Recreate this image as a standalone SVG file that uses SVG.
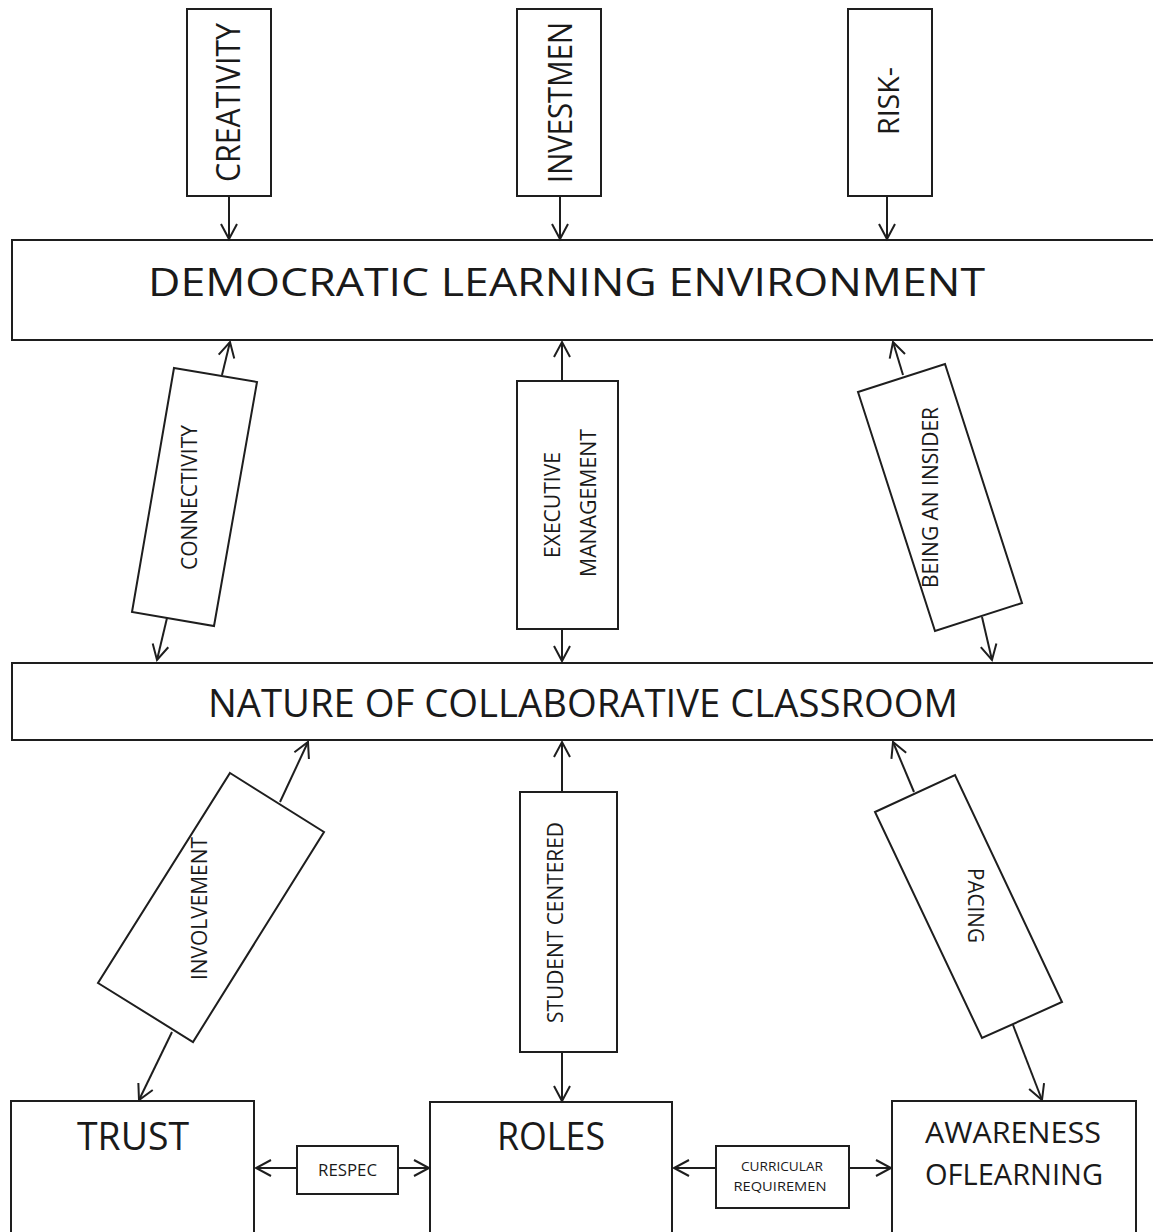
<svg xmlns="http://www.w3.org/2000/svg" width="1153" height="1232" viewBox="0 0 1153 1232">
<style>
.box{fill:#fff;stroke:#1e1e1e;stroke-width:2}
.ln{fill:none;stroke:#1e1e1e;stroke-width:2;marker-end:url(#ah)}
.t{font-family:"Open Sans","DejaVu Sans",sans-serif;fill:#1a1a1a}
</style>
<defs>
<marker id="ah" markerUnits="userSpaceOnUse" markerWidth="20" markerHeight="20" viewBox="0 0 20 20" refX="17" refY="10" orient="auto">
<path d="M2,2 L17,10 L2,18" fill="none" stroke="#1e1e1e" stroke-width="2"/>
</marker>
</defs>
<rect width="1153" height="1232" fill="#fff"/>

<g id="creativity">
<rect class="box" x="187" y="9" width="84" height="187"/>
<text class="t" x="240" y="102.5" font-size="32" text-anchor="middle" textLength="159" lengthAdjust="spacingAndGlyphs" transform="rotate(-90 240 102.5)">CREATIVITY</text>
</g>
<g id="investment">
<rect class="box" x="517" y="9" width="84" height="187"/>
<text class="t" x="572" y="102.5" font-size="33" text-anchor="middle" textLength="161" lengthAdjust="spacingAndGlyphs" transform="rotate(-90 572 102.5)">INVESTMEN</text>
</g>
<g id="risk">
<rect class="box" x="848" y="9" width="84" height="187"/>
<text class="t" x="899" y="101" font-size="30" text-anchor="middle" textLength="68" lengthAdjust="spacingAndGlyphs" transform="rotate(-90 899 101)">RISK-</text>
</g>

<g id="dle">
<rect class="box" x="12" y="240" width="1142" height="100"/>
<text class="t" x="148" y="296" font-size="39" textLength="837" lengthAdjust="spacingAndGlyphs">DEMOCRATIC LEARNING ENVIRONMENT</text>
</g>

<g id="connectivity">
<polygon class="box" points="174,368 257,382 214,626 132,612"/>
<text class="t" x="197" y="497.5" font-size="21" text-anchor="middle" textLength="145" lengthAdjust="spacingAndGlyphs" transform="rotate(-90 197 497.5)">CONNECTIVITY</text>
</g>
<g id="executive">
<rect class="box" x="517" y="381" width="101" height="248"/>
<text class="t" x="560" y="505" font-size="21" text-anchor="middle" textLength="106" lengthAdjust="spacingAndGlyphs" transform="rotate(-90 560 505)">EXECUTIVE</text>
<text class="t" x="596" y="503" font-size="21" text-anchor="middle" textLength="148" lengthAdjust="spacingAndGlyphs" transform="rotate(-90 596 503)">MANAGEMENT</text>
</g>
<g id="insider">
<polygon class="box" points="858,392 945,364 1022,603 935,631"/>
<text class="t" x="938" y="497.5" font-size="21" text-anchor="middle" textLength="181" lengthAdjust="spacingAndGlyphs" transform="rotate(-90 938 497.5)">BEING AN INSIDER</text>
</g>

<g id="ncc">
<rect class="box" x="12" y="663" width="1142" height="77"/>
<text class="t" x="208" y="717" font-size="39" textLength="750" lengthAdjust="spacingAndGlyphs">NATURE OF COLLABORATIVE CLASSROOM</text>
</g>

<g id="involvement">
<polygon class="box" points="230,773 324,832 193,1042 98,983"/>
<text class="t" x="207" y="908.5" font-size="21" text-anchor="middle" textLength="143" lengthAdjust="spacingAndGlyphs" transform="rotate(-90 207 908.5)">INVOLVEMENT</text>
</g>
<g id="student">
<rect class="box" x="520" y="792" width="97" height="260"/>
<text class="t" x="563" y="922.5" font-size="21" text-anchor="middle" textLength="201" lengthAdjust="spacingAndGlyphs" transform="rotate(-90 563 922.5)">STUDENT CENTERED</text>
</g>
<g id="pacing">
<polygon class="box" points="875,812 955,775 1062,1002 982,1038"/>
<text class="t" x="968" y="905.5" font-size="21" text-anchor="middle" textLength="75" lengthAdjust="spacingAndGlyphs" transform="rotate(90 968 905.5)">PACING</text>
</g>

<g id="trust">
<rect class="box" x="11" y="1101" width="243" height="140"/>
<text class="t" x="133" y="1150" font-size="38" text-anchor="middle" textLength="112" lengthAdjust="spacingAndGlyphs">TRUST</text>
</g>
<g id="respect">
<rect class="box" x="297" y="1146" width="101" height="48"/>
<text class="t" x="347.5" y="1176" font-size="16" text-anchor="middle" textLength="59" lengthAdjust="spacingAndGlyphs">RESPEC</text>
</g>
<g id="roles">
<rect class="box" x="430" y="1102" width="242" height="140"/>
<text class="t" x="551" y="1150" font-size="38" text-anchor="middle" textLength="108" lengthAdjust="spacingAndGlyphs">ROLES</text>
</g>
<g id="curricular">
<rect class="box" x="716" y="1146" width="133" height="62"/>
<text class="t" x="782" y="1171" font-size="13.5" text-anchor="middle" textLength="82" lengthAdjust="spacingAndGlyphs">CURRICULAR</text>
<text class="t" x="780" y="1191" font-size="13.5" text-anchor="middle" textLength="93" lengthAdjust="spacingAndGlyphs">REQUIREMEN</text>
</g>
<g id="awareness">
<rect class="box" x="892" y="1101" width="244" height="140"/>
<text class="t" x="1013" y="1143" font-size="30" text-anchor="middle" textLength="176" lengthAdjust="spacingAndGlyphs">AWARENESS</text>
<text class="t" x="1014" y="1185" font-size="30" text-anchor="middle" textLength="178" lengthAdjust="spacingAndGlyphs">OFLEARNING</text>
</g>

<g id="connectors">
<line class="ln" x1="229" y1="196" x2="229" y2="239"/>
<line class="ln" x1="560" y1="196" x2="560" y2="239"/>
<line class="ln" x1="887" y1="196" x2="887" y2="239"/>
<line class="ln" x1="222" y1="375" x2="230" y2="342"/>
<line class="ln" x1="167" y1="618" x2="157" y2="660"/>
<line class="ln" x1="562" y1="381" x2="562" y2="342"/>
<line class="ln" x1="562" y1="629" x2="562" y2="661"/>
<line class="ln" x1="903" y1="375" x2="893" y2="342"/>
<line class="ln" x1="982" y1="617" x2="992" y2="660"/>
<line class="ln" x1="280" y1="802" x2="308" y2="742"/>
<line class="ln" x1="172" y1="1032" x2="139" y2="1100"/>
<line class="ln" x1="562" y1="792" x2="562" y2="742"/>
<line class="ln" x1="562" y1="1052" x2="562" y2="1101"/>
<line class="ln" x1="914" y1="792" x2="893" y2="742"/>
<line class="ln" x1="1013" y1="1025" x2="1042" y2="1100"/>
<line class="ln" x1="297" y1="1168" x2="256" y2="1168"/>
<line class="ln" x1="398" y1="1168" x2="429" y2="1168"/>
<line class="ln" x1="716" y1="1168" x2="674" y2="1168"/>
<line class="ln" x1="849" y1="1168" x2="891" y2="1168"/>
</g>
</svg>
